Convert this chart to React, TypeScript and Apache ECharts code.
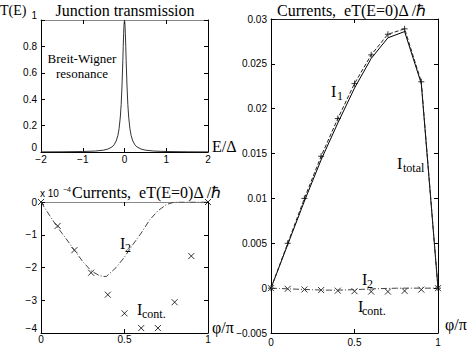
import React, { useEffect, useRef } from "react";
import * as echarts from "echarts";

// Top-left: junction transmission T(E) (Breit-Wigner resonance)
const energy = [-2, -1.5, -1, -0.7, -0.5, -0.4, -0.3, -0.25, -0.2, -0.16, -0.13, -0.1, -0.08, -0.06, -0.04, -0.03, -0.02, -0.01, 0,
  0.01, 0.02, 0.03, 0.04, 0.06, 0.08, 0.1, 0.13, 0.16, 0.2, 0.25, 0.3, 0.4, 0.5, 0.7, 1, 1.5, 2];
const transmission = [0.0009, 0.0016, 0.0036, 0.0073, 0.014, 0.022, 0.038, 0.054, 0.083, 0.123, 0.176, 0.265, 0.36, 0.5, 0.692, 0.8, 0.9, 0.973, 1,
  0.973, 0.9, 0.8, 0.692, 0.5, 0.36, 0.265, 0.176, 0.123, 0.083, 0.054, 0.038, 0.022, 0.014, 0.0073, 0.0036, 0.0016, 0.0009];

// Bottom-left (units of 1e-4): I2 curve and Icont points
const i2Phi = [0, 0.05, 0.1, 0.15, 0.2, 0.25, 0.3, 0.35, 0.39, 0.45, 0.5, 0.55, 0.6, 0.65, 0.7, 0.75, 0.8, 0.9, 1];
const i2Val = [0, -0.4, -0.78, -1.12, -1.47, -1.82, -2.1, -2.25, -2.28, -2.0, -1.68, -1.3, -0.95, -0.55, -0.27, -0.08, 0, 0, 0];
const phi = [0, 0.1, 0.2, 0.3, 0.4, 0.5, 0.6, 0.7, 0.8, 0.9, 1];
const iCont = [0, -0.73, -1.47, -2.16, -2.83, -3.4, -3.85, -3.85, -3.06, -1.65, 0];

// Right panel: currents
const i1 = [0, 0.005, 0.01, 0.0147, 0.0189, 0.0228, 0.026, 0.0283, 0.0289, 0.023, 0];
const iTotal = [0, 0.00485, 0.0097, 0.0143, 0.0184, 0.0223, 0.0256, 0.0279, 0.0286, 0.0228, 0];

const SCALE_2 = 1e-4;

const CROSS = "path://M0,0L10,10M10,0L0,10";
const PLUS = "path://M5,0L5,10M0,5L10,5";

const fmt = (v: number) => String(parseFloat(Number(v).toFixed(4))).replace("-", "\u2212");

const SANS = "Liberation Sans";
const SERIF = "Liberation Serif";

function axisPair(gridIndex: number, min: number, max: number, interval: number, topColor: string, margin: number) {
  return [
    {
      type: "value", gridIndex, min, max, interval, position: "bottom",
      axisLine: { show: true, onZero: false, lineStyle: { color: "#000", width: 1 } },
      axisTick: { show: true, inside: true, length: 4, lineStyle: { color: "#000" } },
      axisLabel: { show: true, margin, color: "#000", fontFamily: SANS, fontSize: 10, formatter: fmt },
      splitLine: { show: false },
    },
    {
      type: "value", gridIndex, min, max, interval, position: "top",
      axisLine: { show: true, onZero: false, lineStyle: { color: topColor, width: 1 } },
      axisTick: { show: true, inside: true, length: 4, lineStyle: { color: "#000" } },
      axisLabel: { show: false },
      splitLine: { show: false },
    },
  ];
}

function yAxisPair(gridIndex: number, min: number, max: number, interval: number, extra: any) {
  return [
    {
      type: "value", gridIndex, min, max, interval, position: "left",
      axisLine: { show: true, onZero: false, lineStyle: { color: "#000", width: 1 } },
      axisTick: { show: true, inside: true, length: 4, lineStyle: { color: "#000" } },
      axisLabel: { show: true, margin: 4, color: "#000", fontFamily: SANS, fontSize: 10, formatter: fmt, ...extra },
      splitLine: { show: false },
    },
    {
      type: "value", gridIndex, min, max, interval, position: "right",
      axisLine: { show: true, onZero: false, lineStyle: { color: "#000", width: 1 } },
      axisTick: { show: true, inside: true, length: 4, lineStyle: { color: "#000" } },
      axisLabel: { show: false },
      splitLine: { show: false },
    },
  ];
}

function txt(text: string, x: number, y: number, size: number, align: string = "left", family: string = SERIF) {
  return {
    type: "text", x, y, z: 100,
    style: { text, fontFamily: family, fontSize: size, fill: "#000", textAlign: align, textVerticalAlign: "middle" },
  };
}

export default function App() {
  const ref = useRef<HTMLDivElement>(null);
  useEffect(() => {
    if (!ref.current) return;
    const chart = echarts.init(ref.current, null, { renderer: "svg" });
    const option: any = {
      animation: false,
      backgroundColor: "#fff",
      grid: [
        { left: 41, top: 20, width: 167, height: 132 },
        { left: 41, top: 202, width: 167, height: 131 },
        { left: 271, top: 19, width: 167, height: 314 },
      ],
      xAxis: [
        ...axisPair(0, -2, 2, 1, "#888", 2),
        ...axisPair(1, 0, 1, 0.5, "#888", 1),
        ...axisPair(2, 0, 1, 0.5, "#222", 4),
      ],
      yAxis: [
        ...yAxisPair(0, 0, 1, 0.2, { verticalAlignMaxLabel: "bottom", verticalAlignMinLabel: "bottom" }),
        ...yAxisPair(1, -4, 0, 1, { verticalAlignMinLabel: "bottom" }),
        ...yAxisPair(2, -0.005, 0.03, 0.005, {}),
      ],
      series: [
        {
          type: "line", xAxisIndex: 0, yAxisIndex: 0, showSymbol: false,
          data: energy.map((e, i) => [e, transmission[i]]),
          lineStyle: { color: "#333", width: 1 },
        },
        {
          type: "line", xAxisIndex: 2, yAxisIndex: 2, showSymbol: false,
          data: i2Phi.map((p, i) => [p, i2Val[i]]),
          lineStyle: { color: "#444", width: 1, type: [6, 2, 1, 2] },
        },
        {
          type: "scatter", xAxisIndex: 2, yAxisIndex: 2, symbol: CROSS, symbolSize: 6,
          data: phi.map((p, i) => [p, iCont[i]]),
          itemStyle: { color: "rgba(0,0,0,0)", borderColor: "#000", borderWidth: 1 },
        },
        {
          type: "line", xAxisIndex: 4, yAxisIndex: 4, showSymbol: false,
          data: phi.map((p, i) => [p, iTotal[i]]),
          lineStyle: { color: "#000", width: 1 },
        },
        {
          type: "line", xAxisIndex: 4, yAxisIndex: 4, showSymbol: false,
          data: phi.map((p, i) => [p, i1[i]]),
          lineStyle: { color: "#222", width: 1, type: [4, 2] },
        },
        {
          type: "scatter", xAxisIndex: 4, yAxisIndex: 4, symbol: PLUS, symbolSize: 6,
          data: phi.map((p, i) => [p, i1[i]]),
          itemStyle: { color: "rgba(0,0,0,0)", borderColor: "#000", borderWidth: 1 },
        },
        {
          type: "line", xAxisIndex: 4, yAxisIndex: 4, showSymbol: false,
          data: i2Phi.map((p, i) => [p, i2Val[i] * SCALE_2]),
          lineStyle: { color: "#444", width: 1, type: [6, 2, 1, 2] },
        },
        {
          type: "scatter", xAxisIndex: 4, yAxisIndex: 4, symbol: CROSS, symbolSize: 6,
          data: phi.map((p, i) => [p, iCont[i] * SCALE_2]),
          itemStyle: { color: "rgba(0,0,0,0)", borderColor: "#000", borderWidth: 1 },
        },
      ],
      graphic: [
        txt("Junction transmission", 125, 10, 16, "center"),
        txt("T(E)", 0, 10, 14),
        txt("E/\u0394", 212, 146, 16),
        txt("Breit-Wigner", 82, 58, 13, "center"),
        txt("resonance", 82, 73, 13, "center"),
        txt("x 10", 40, 193, 10, "left", SANS),
        txt("\u22124", 63, 189, 7, "left", SANS),
        txt("Currents,  eT(E=0)\u0394 /\u210F", 72, 192, 16),
        txt("I", 120, 243, 16),
        txt("2", 125, 248, 12),
        txt("I", 137, 309, 16),
        txt("cont.", 142, 314, 12),
        txt("\u03C6/\u03C0", 212, 327, 16),
        txt("Currents,  eT(E=0)\u0394 /\u210F", 277, 10, 16),
        txt("I", 331, 91, 16),
        txt("1", 337, 96, 12),
        txt("I", 397, 163, 16),
        txt("total", 403, 168, 12),
        txt("I", 362, 279, 16),
        txt("2", 367, 284, 12),
        txt("I", 358, 306, 16),
        txt("cont.", 362, 311, 12),
        txt("\u03C6/\u03C0", 445, 324, 16),
      ],
    };
    chart.setOption(option);
    return () => chart.dispose();
  }, []);
  return <div ref={ref} style={{ position: "absolute", left: 0, top: 0, width: 467, height: 350 }} />;
}
